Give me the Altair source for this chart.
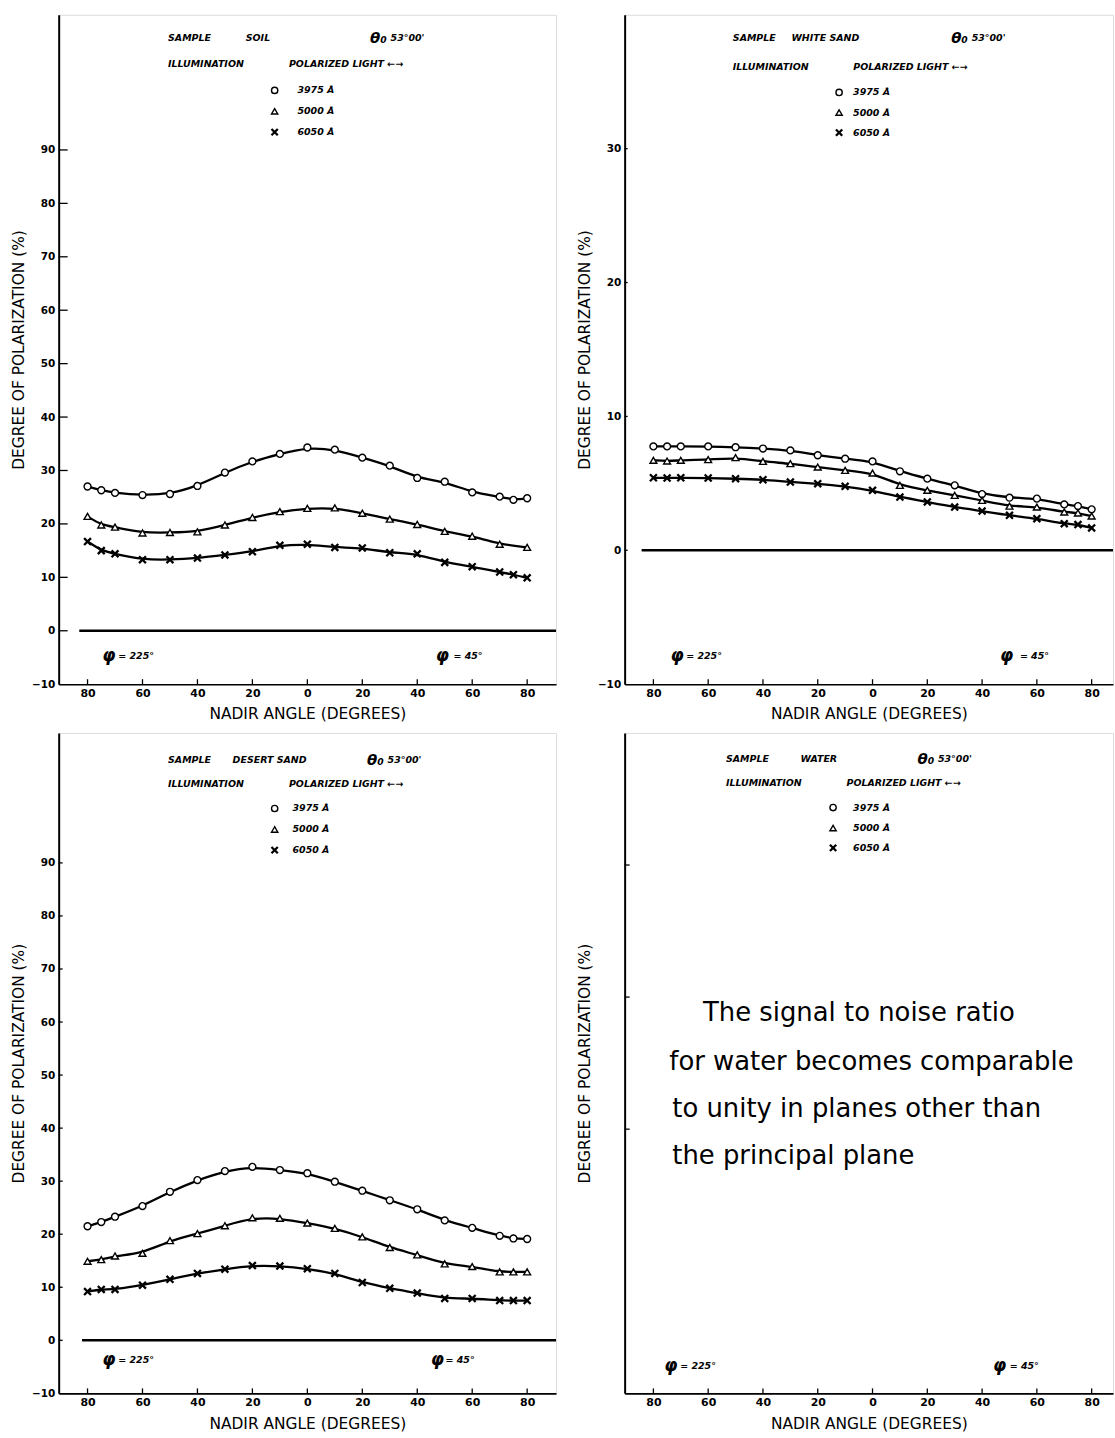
import altair as alt
import pandas as pd

# ---------------- data ----------------
angles = [-80, -75, -70, -60, -50, -40, -30, -20, -10, 0, 10, 20, 30, 40, 50, 60, 70, 75, 80]
wavelengths = ["3975 Å", "5000 Å", "6050 Å"]
x_tick_values = [-80, -60, -40, -20, 0, 20, 40, 60, 80]
y_ticks_wide = [-10, 0, 10, 20, 30, 40, 50, 60, 70, 80, 90]
y_ticks_narrow = [-10, 0, 10, 20, 30]
y_ticks_water = [10, 20, 30]

soil_3975 = [27.0, 26.3, 25.8, 25.4, 25.6, 27.1, 29.6, 31.7, 33.1, 34.3, 33.9, 32.4, 30.9, 28.6, 27.9, 25.9, 25.1, 24.5, 24.8]
soil_5000 = [21.4, 19.8, 19.4, 18.3, 18.4, 18.5, 19.8, 21.2, 22.3, 22.9, 23.0, 22.0, 20.9, 19.9, 18.6, 17.7, 16.2, None, 15.6]
soil_6050 = [16.7, 15.0, 14.4, 13.3, 13.3, 13.6, 14.2, 14.8, 16.0, 16.2, 15.6, 15.5, 14.6, 14.4, 12.8, 12.0, 11.0, 10.5, 9.9]

white_3975 = [7.76, 7.76, 7.76, 7.76, 7.70, 7.60, 7.46, 7.10, 6.84, 6.64, 5.90, 5.35, 4.85, 4.20, 3.93, 3.86, 3.43, 3.30, 3.06]
white_5000 = [6.72, 6.67, 6.72, 6.77, 6.92, 6.64, 6.47, 6.22, 5.97, 5.77, 4.85, 4.48, 4.10, 3.73, 3.30, 3.23, 2.86, 2.79, 2.56]
white_6050 = [5.42, 5.40, 5.42, 5.40, 5.35, 5.27, 5.10, 4.98, 4.78, 4.48, 3.98, 3.61, 3.23, 2.93, 2.61, 2.36, 1.99, 1.92, 1.67]

desert_3975 = [21.5, 22.3, 23.3, 25.3, 28.0, 30.2, 31.9, 32.7, 32.1, 31.5, 29.9, 28.2, 26.4, 24.7, 22.6, 21.2, 19.7, 19.2, 19.1]
desert_5000 = [14.9, 15.2, 15.9, 16.4, 18.8, 20.1, 21.6, 23.1, 23.0, 22.1, 21.1, 19.5, 17.5, 16.1, 14.4, 13.9, 12.9, 12.9, 12.9]
desert_6050 = [9.2, 9.6, 9.6, 10.4, 11.5, 12.6, 13.4, 14.1, 14.0, 13.5, 12.6, 10.9, 9.8, 8.9, 7.9, 7.9, 7.5, 7.5, 7.5]

water_note = ["The signal to noise ratio", "for water becomes comparable",
              "to unity in planes other than", "the principal plane"]

# ---------------- styling ----------------
FONT = "DejaVu Sans"
SHAPES = ["circle", "triangle-up", "M-1,-1L1,1M-1,1L1,-1"]
STROKE_W = alt.condition("datum.series === '6050 Å'", alt.value(2.3), alt.value(1.4))


def long_frame(series_values):
    rows = []
    for lab, vals in zip(wavelengths, series_values):
        for a, v in zip(angles, vals):
            if v is not None:
                rows.append({"angle": a, "pol": v, "series": lab})
    return pd.DataFrame(rows)


def panel(sample, series_values, width, height, xdom, ydom, yvals, ylabels,
          ytick_px, zero_start, legend_pos, pos, note_pos=None):
    xs = alt.Scale(domain=xdom, nice=False, zero=False)
    ys = alt.Scale(domain=ydom, nice=False, zero=False)
    shp = alt.Scale(domain=wavelengths, range=SHAPES)
    xppu = width / (xdom[1] - xdom[0])
    yppu = height / (ydom[1] - ydom[0])
    xaxis = alt.Axis(values=x_tick_values, labelExpr="abs(datum.value)", ticks=False,
                     grid=False, domainColor="black", domainWidth=1.6,
                     labelFont=FONT, labelFontSize=11, labelFontWeight="bold",
                     labelColor="black", labelPadding=3, labelFlush=False,
                     labelOverlap=False, title="NADIR ANGLE (DEGREES)",
                     titleFont=FONT, titleFontSize=15.5, titleFontWeight="normal",
                     titleColor="black", titleY=30, titleBaseline="middle")
    yaxis = alt.Axis(values=yvals, labels=ylabels, ticks=False, grid=False,
                     domainColor="black", domainWidth=2, labelFont=FONT,
                     labelFontSize=10.5, labelFontWeight="bold", labelColor="black",
                     labelPadding=4, labelFlush=False, labelOverlap=False,
                     title="DEGREE OF POLARIZATION (%)", titleFont=FONT,
                     titleFontSize=15.5, titleFontWeight="normal", titleColor="black",
                     titleX=-40, titleY=height / 2, titleAngle=270,
                     titleAlign="center", titleBaseline="middle")

    def X(f):
        return alt.X(f, type="quantitative", scale=xs, axis=xaxis)

    def Y(f):
        return alt.Y(f, type="quantitative", scale=ys, axis=yaxis)

    layers = []
    # inward ticks on the left frame
    yt = pd.DataFrame({"y": [v for v in yvals if v > ydom[0]]})
    yt["x"] = xdom[0]
    yt["x2"] = xdom[0] + ytick_px / xppu
    layers.append(alt.Chart(yt).mark_rule(color="black", strokeWidth=1.3)
                  .encode(x=X("x"), x2="x2", y=Y("y")))
    # inward ticks on the bottom frame
    xt = pd.DataFrame({"x": x_tick_values})
    xt["y"] = ydom[0]
    xt["y2"] = ydom[0] + 5 / yppu
    layers.append(alt.Chart(xt).mark_rule(color="black", strokeWidth=1.3)
                  .encode(x=X("x"), y=Y("y"), y2="y2"))
    # zero line
    if zero_start is not None:
        zr = pd.DataFrame({"x": [zero_start], "x2": [xdom[1]], "y": [0]})
        layers.append(alt.Chart(zr).mark_rule(color="black", strokeWidth=2.4)
                      .encode(x=X("x"), x2="x2", y=Y("y")))

    if series_values is not None:
        df = long_frame(series_values)
        layers.append(alt.Chart(df).mark_line(interpolate="basis", color="black",
                                              strokeWidth=2.3)
                      .encode(x=X("angle"), y=Y("pol"), detail="series:N"))
        layers.append(
            alt.Chart(df).mark_point(size=48, filled=False, fill="white", stroke="black",
                                     opacity=1)
            .encode(x=X("angle"), y=Y("pol"),
                    shape=alt.Shape("series:N", scale=shp, legend=None),
                    strokeWidth=STROKE_W)
        )

    # key (symbol + wavelength) inside the panel
    leg = pd.DataFrame({"series": wavelengths, "y": legend_pos[2]})
    leg["x"] = legend_pos[0]
    leg["lx"] = legend_pos[1]
    layers.append(
        alt.Chart(leg).mark_point(size=40, filled=False, fill="white", stroke="black",
                                  opacity=1)
        .encode(x=X("x"), y=Y("y"),
                shape=alt.Shape("series:N", scale=shp, legend=None),
                strokeWidth=STROKE_W)
    )
    layers.append(
        alt.Chart(leg).mark_text(align="left", baseline="middle", font=FONT,
                                 fontSize=9.5, fontStyle="italic", fontWeight="bold",
                                 color="black")
        .encode(x=X("lx"), y=Y("y"), text="series:N")
    )

    # header and azimuth annotations
    hx, hy1, hy2, sx, tx, lx, ly, rx, rgx = pos
    hdr = pd.DataFrame([
        {"t": "SAMPLE", "x": hx, "y": hy1},
        {"t": sample, "x": sx, "y": hy1},
        {"t": "53°00'", "x": tx + 7.5, "y": hy1},
        {"t": "ILLUMINATION", "x": hx, "y": hy2},
        {"t": "POLARIZED LIGHT ←→", "x": hx + 44, "y": hy2},
        {"t": "= 225°", "x": lx + 5.8, "y": ly},
        {"t": "= 45°", "x": rx + rgx, "y": ly},
    ])
    layers.append(alt.Chart(hdr).mark_text(align="left", baseline="middle", font=FONT,
                                           fontSize=9.5, fontStyle="italic",
                                           fontWeight="bold", color="black")
                  .encode(x=X("x"), y=Y("y"), text="t:N"))
    glyphs = pd.DataFrame([
        {"t": "θ₀", "x": tx, "y": hy1, "fs": 15},
        {"t": "φ", "x": lx, "y": ly, "fs": 17},
        {"t": "φ", "x": rx, "y": ly, "fs": 17},
    ])
    layers.append(alt.Chart(glyphs).mark_text(align="left", baseline="middle", font=FONT,
                                              fontStyle="italic", fontWeight="bold",
                                              color="black")
                  .encode(x=X("x"), y=Y("y"), text="t:N",
                          size=alt.Size("fs:Q", scale=None)))
    if note_pos is not None:
        nt = pd.DataFrame({"t": water_note, "x": [p[0] for p in note_pos],
                           "y": [p[1] for p in note_pos]})
        layers.append(alt.Chart(nt).mark_text(align="left", baseline="middle",
                                              font=FONT, fontSize=26, color="black")
                      .encode(x=X("x"), y=Y("y"), text="t:N"))

    return alt.layer(*layers).properties(width=width, height=height)


XL = [-90.5, 90.5]
XR = [-90.5, 87.8]

p1 = panel("SOIL", [soil_3975, soil_5000, soil_6050], 500, 673, XL, [-10, 115.3],
           y_ticks_wide, True, 9, -83, (-11.9, -3.6, [101.15, 97.24, 93.33]),
           (-50.7, 111.0, 106.0, -22.4, 22.8, -74.6, -4.8, 46.7, 6.5))
p2 = panel("WHITE SAND", [white_3975, white_5000, white_6050], 491, 673, XR, [-10, 40],
           y_ticks_narrow, True, 3, -84.3, (-12.2, -7.1, [34.2, 32.7, 31.2]),
           (-51.0, 38.3, 36.1, -29.6, 28.7, -73.8, -7.9, 46.5, 7.3))
p3 = panel("DESERT SAND", [desert_3975, desert_5000, desert_6050], 500, 664, XL, [-10, 114.5],
           y_ticks_wide, True, 4, -82, (-11.9, -5.4, [100.25, 96.3, 92.4]),
           (-50.7, 109.4, 104.8, -27.2, 21.7, -74.6, -3.8, 44.9, 5.4))
p4 = panel("WATER", None, 491, 664, XR, [-10, 40],
           y_ticks_water, False, 5, None, (-14.4, -7.1, [34.35, 32.8, 31.3]),
           (-53.5, 38.0, 36.2, -26.3, 16.4, -76.0, -7.9, 44.0, 6.1),
           note_pos=[(-61.9, 18.8), (-74.2, 15.1), (-73.1, 11.5), (-73.1, 8.0)])

chart = (
    alt.concat(p1, p2, p3, p4, columns=2, spacing={"row": 9, "column": 19})
    .resolve_scale(shape="independent")
    .properties(padding={"left": 11, "top": 10, "right": 0, "bottom": 0})
    .configure_view(stroke="black", strokeWidth=1.5)
    .configure(background="white")
)

chart.save("out.html", embed_options={"renderer": "svg", "actions": False})
